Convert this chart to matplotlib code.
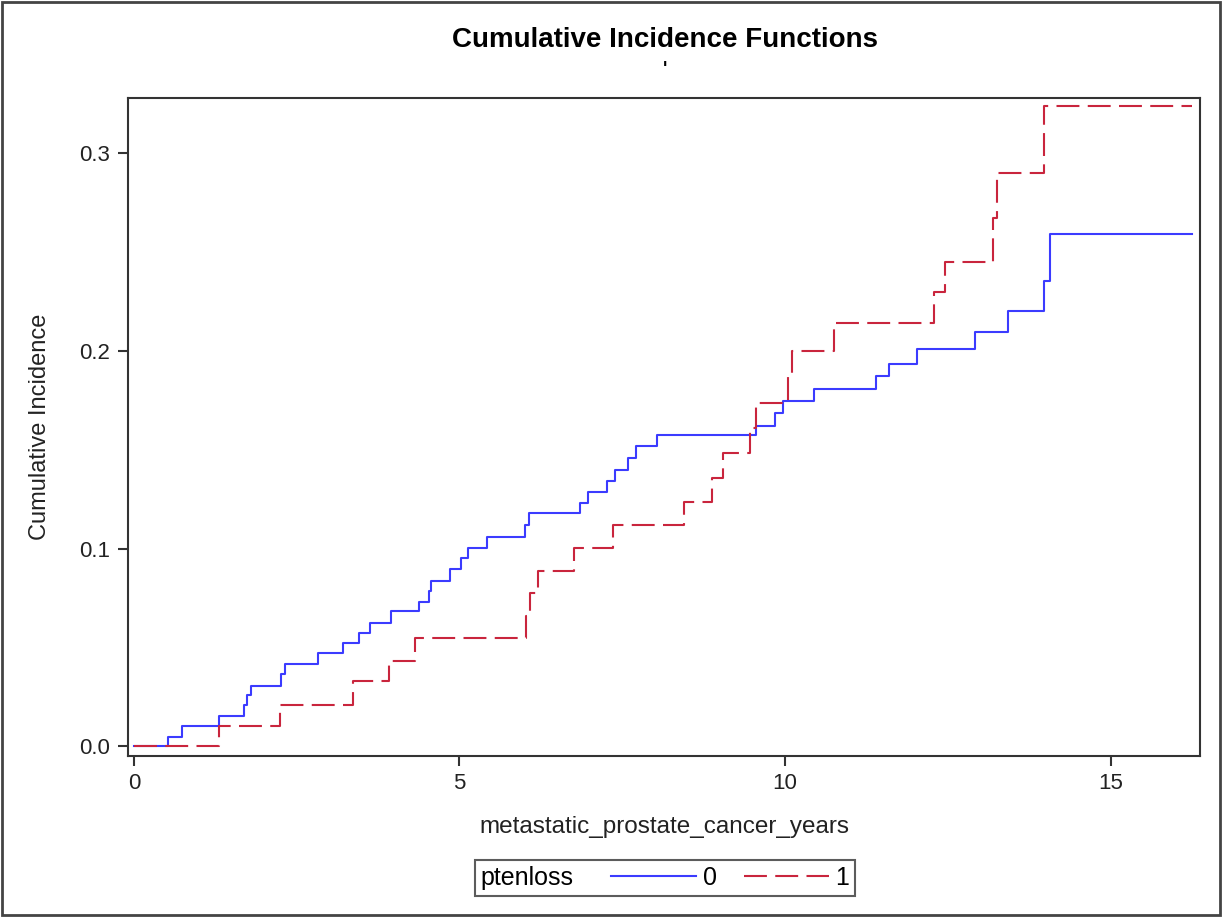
import matplotlib.pyplot as plt
from matplotlib.patches import Rectangle
from matplotlib.offsetbox import HPacker

# step points (time, cumulative incidence)
t0 = [0.0, 0.53, 0.74, 1.30, 1.69, 1.74, 1.80, 2.26, 2.32, 2.83, 3.21, 3.45, 3.62,
      3.95, 4.38, 4.53, 4.56, 4.86, 5.03, 5.13, 5.42, 6.01, 6.06, 6.85, 6.97, 7.26,
      7.38, 7.59, 7.71, 8.03, 9.55, 9.85, 9.96, 10.44, 11.40, 11.59, 12.02, 12.92,
      13.42, 13.98, 14.07, 16.25]
ci0 = [0.0, 0.0047, 0.0101, 0.0153, 0.0208, 0.0258, 0.0305, 0.0365, 0.0415, 0.0472,
       0.0523, 0.0574, 0.0624, 0.0684, 0.0731, 0.0786, 0.0837, 0.0896, 0.0953, 0.1004,
       0.1060, 0.1119, 0.1178, 0.1232, 0.1284, 0.1342, 0.1397, 0.1456, 0.1519, 0.1575,
       0.1620, 0.1688, 0.1747, 0.1806, 0.1873, 0.1933, 0.2009, 0.2098, 0.2204, 0.2356,
       0.2591, 0.2591]

t1 = [0.0, 1.30, 2.25, 3.36, 3.92, 4.32, 6.02, 6.08, 6.20, 6.76, 7.35, 8.44, 8.87,
      9.04, 9.46, 9.55, 10.05, 10.11, 10.75, 12.28, 12.46, 13.19, 13.25, 13.98, 16.25]
ci1 = [0.0, 0.0101, 0.0208, 0.0329, 0.0430, 0.0548, 0.0660, 0.0773, 0.0886, 0.1004,
       0.1119, 0.1237, 0.1357, 0.1485, 0.1610, 0.1738, 0.1873, 0.2000, 0.2143, 0.2300,
       0.2452, 0.2672, 0.2900, 0.3242, 0.3242]

groups = ['0', '1']

plt.rcParams['font.family'] = ['Liberation Sans', 'DejaVu Sans']

fig = plt.figure(figsize=(12.22, 9.17), dpi=100)
ax = fig.add_axes([128 / 1222, 1 - 756 / 917, (1200 - 128) / 1222, (756 - 98) / 917])

ax.step(t0, ci0, where='post', color='#3b3bff', lw=1.5, label=groups[0])
ax.step(t1, ci1, where='post', color='#c9253d', lw=1.5, linestyle=(0, (11, 4)), label=groups[1])

ax.set_xlim(-0.09, 16.37)
ax.set_ylim(-0.005, 0.328)
ax.set_xticks([0, 5, 10, 15])
ax.set_yticks([0.0, 0.1, 0.2, 0.3])
ax.set_yticklabels(['0.0', '0.1', '0.2', '0.3'])
ax.tick_params(labelsize=16, color='#333333', length=7, width=1.5, labelcolor='#222222')
ax.tick_params(axis='y', pad=6)
ax.tick_params(axis='x', pad=5)
for s in ax.spines.values():
    s.set_color('#333333')
    s.set_linewidth(1.5)

ax.set_xlabel('metastatic_prostate_cancer_years', fontsize=17.5, labelpad=16, color='#222222')
ax.set_ylabel('Cumulative Incidence', fontsize=17, labelpad=20, color='#222222')

fig.text(665 / 1222, 1 - 40 / 917, 'Cumulative Incidence Functions', ha='center', va='center',
         fontsize=20, fontweight='bold')
fig.text(665 / 1222, 1 - 70 / 917, "'", ha='center', va='center', fontsize=13, fontweight='bold')

leg = fig.legend(loc='center', bbox_to_anchor=(665 / 1222, 1 - 878 / 917), ncol=2,
                 title='ptenloss', fontsize=18, title_fontsize=18, frameon=True,
                 fancybox=False, edgecolor='#333333', handlelength=3.4, handletextpad=0.25,
                 columnspacing=1.1, borderpad=0.2)
leg.get_frame().set_linewidth(1.5)
# title inline with the entries, as in the SAS legend
vp = leg._legend_box
title_box, body_box = vp.get_children()
leg._legend_box = HPacker(pad=0.25 * 18, sep=27, align='center', children=[title_box, body_box])
leg._legend_box.set_figure(fig)
leg._legend_box.set_offset(leg._findoffset)

fig.patches.append(Rectangle((0.002, 0.002), 0.996, 0.996, transform=fig.transFigure,
                             fill=False, edgecolor='#444444', lw=2))

fig.savefig('out.png', dpi=100)
